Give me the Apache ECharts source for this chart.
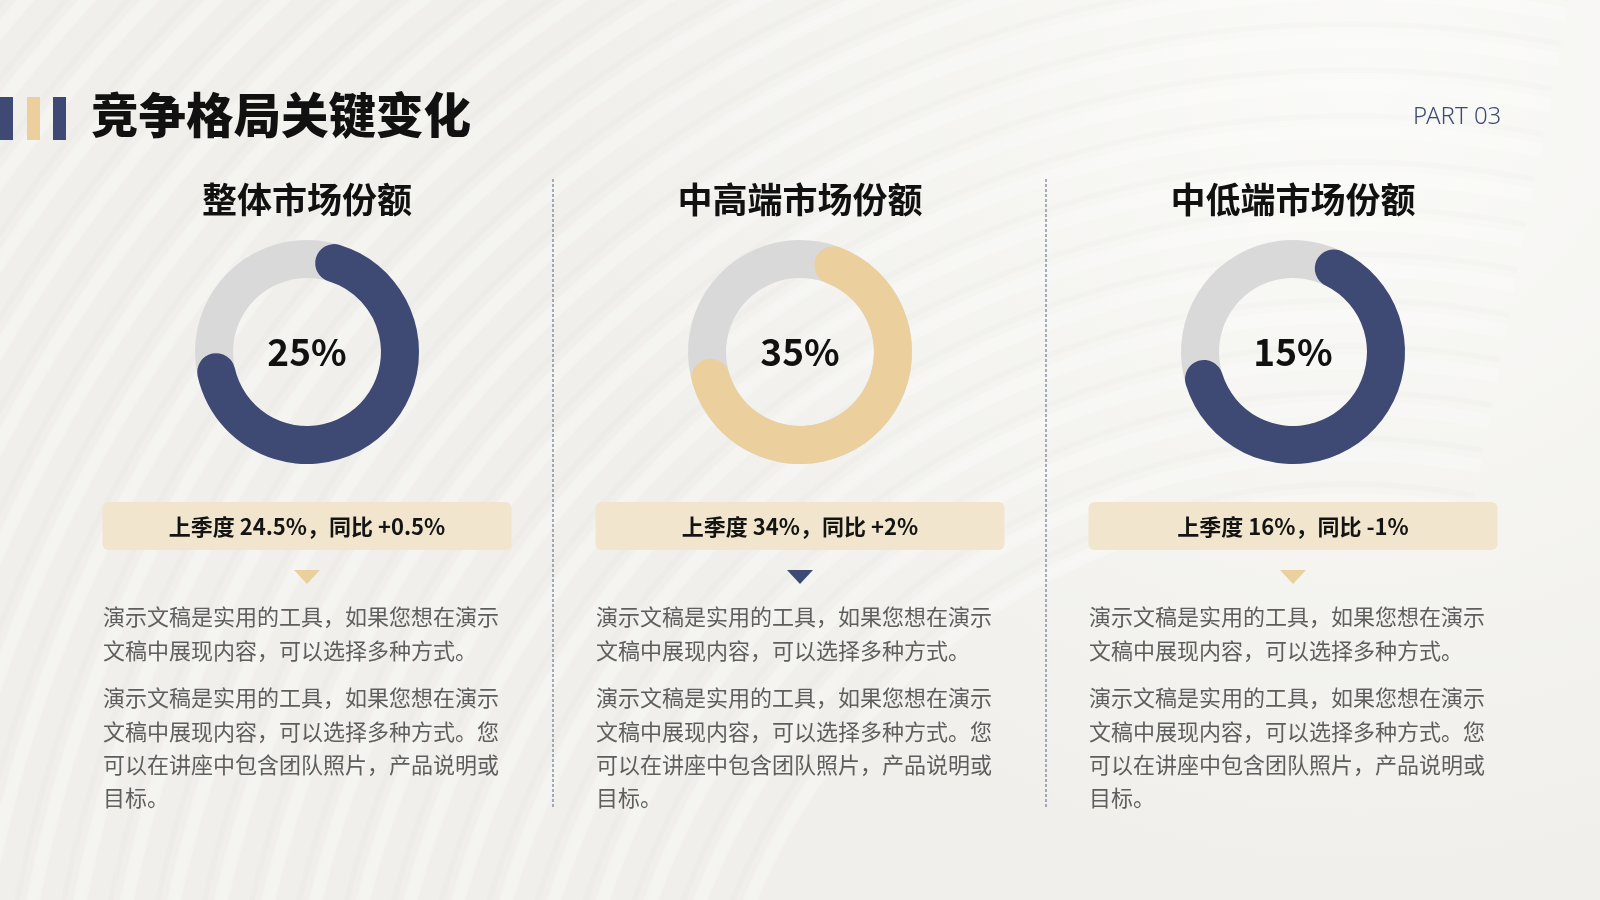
<!DOCTYPE html>
<html><head><meta charset="utf-8">
<script src="https://cdn.jsdelivr.net/npm/echarts@6/dist/echarts.min.js"></script>
<style>html,body{margin:0;padding:0;background:#f2f1ed}#c{width:1600px;height:900px}</style>
</head><body><div id="c"></div>
<script>
// ---- data ----
const pageTitle = '竞争格局关键变化';
const partLabel = 'PART 03';
const categories = ['整体市场份额', '中高端市场份额', '中低端市场份额'];
const shareValues = [25, 35, 15];
const lastQuarter = ['24.5%', '34%', '16%'];
const yoyChange = ['+0.5%', '+2%', '-1%'];
const arcStartDeg = [17, 21, 26];      // clockwise from 12 o'clock
const arcPercent = [66.8, 64.7, 63.1]; // share of the ring the coloured arc covers
const paragraph1 = ['演示文稿是实用的工具，如果您想在演示', '文稿中展现内容，可以选择多种方式。'];
const paragraph2 = ['演示文稿是实用的工具，如果您想在演示', '文稿中展现内容，可以选择多种方式。您', '可以在讲座中包含团队照片，产品说明或', '目标。'];

// ---- style ----
const NAVY = '#3e4a73', TAN = '#ebcf9d', BOX = '#f1e5cd', GREY = '#d9d9d9';
const ringColors = [NAVY, TAN, NAVY];
const triColors = [TAN, NAVY, TAN];
const FONT = "'Noto Sans CJK SC','Noto Sans',sans-serif";
const colX = [307, 800, 1293];
const ringY = 352;

const chart = echarts.init(document.getElementById('c'), null, {renderer: 'canvas'});

const graphics = [];
// soft background light
graphics.push({type: 'rect', silent: true, z: -20, shape: {x: 0, y: 0, width: 1600, height: 900},
  style: {fill: new echarts.graphic.RadialGradient(0.85, 0.1, 0.9, [
    {offset: 0, color: 'rgba(250,250,248,1)'}, {offset: 1, color: 'rgba(240,239,235,1)'}])}});
// faint background stripes
for (let r = 650; r <= 1800; r += 46) {
  graphics.push({type: 'arc', silent: true, z: -10,
    shape: {cx: 1350, cy: 1150, r: r, startAngle: Math.PI, endAngle: Math.PI * 1.56},
    style: {stroke: 'rgba(255,255,255,0.26)', lineWidth: 14, fill: null, shadowBlur: 8, shadowColor: 'rgba(255,255,255,0.35)'}});
  graphics.push({type: 'arc', silent: true, z: -10,
    shape: {cx: 1350, cy: 1150, r: r + 16, startAngle: Math.PI, endAngle: Math.PI * 1.56},
    style: {stroke: 'rgba(0,0,0,0.01)', lineWidth: 6, fill: null}});
}
// header bars
[[0, NAVY], [27, TAN], [53, NAVY]].forEach(([x, c]) => {
  graphics.push({type: 'rect', shape: {x: x, y: 97, width: 13, height: 43}, style: {fill: c}});
});
graphics.push({type: 'text', left: 91, top: 91, style: {text: pageTitle, font: `900 47.5px ${FONT}`, fill: '#111', letterSpacing: 0.4}});
graphics.push({type: 'text', x: 1413, y: 117, style: {text: partLabel, font: `300 24px 'Noto Sans',sans-serif`, fill: NAVY, verticalAlign: 'middle'}});
// dividers
[553, 1046].forEach(x => {
  graphics.push({type: 'line', shape: {x1: x, y1: 179, x2: x, y2: 809}, style: {stroke: '#55608a', lineWidth: 1, lineDash: [3, 2]}});
});

const series = [];
categories.forEach((name, i) => {
  const cx = colX[i];
  graphics.push({type: 'text', x: cx, y: 200, style: {text: name, font: `700 35px ${FONT}`, fill: '#111', align: 'center', verticalAlign: 'middle'}});
  graphics.push({type: 'rect', shape: {x: cx - 204.5, y: 502, width: 409, height: 48, r: 6}, style: {fill: BOX}});
  graphics.push({type: 'text', x: cx, y: 527, style: {text: `上季度 ${lastQuarter[i]}，同比 ${yoyChange[i]}`, font: `700 22px ${FONT}`, fill: '#141414', align: 'center', verticalAlign: 'middle'}});
  graphics.push({type: 'polygon', shape: {points: [[cx - 13, 570], [cx + 13, 570], [cx, 584]]}, style: {fill: triColors[i]}});
  paragraph1.forEach((line, k) => {
    graphics.push({type: 'text', x: cx - 204, y: 617 + k * 33.3, style: {text: line, font: `400 22px ${FONT}`, fill: '#5e5e5e', verticalAlign: 'middle'}});
  });
  paragraph2.forEach((line, k) => {
    graphics.push({type: 'text', x: cx - 204, y: 698 + k * 33.3, style: {text: line, font: `400 22px ${FONT}`, fill: '#5e5e5e', verticalAlign: 'middle'}});
  });
  const sa = 90 - arcStartDeg[i];
  series.push({
    type: 'gauge', center: [cx, ringY], radius: 112,
    startAngle: sa, endAngle: sa - 360, min: 0, max: 100,
    axisLine: {lineStyle: {width: 38, color: [[1, GREY]]}},
    progress: {show: true, width: 38, roundCap: true, itemStyle: {color: ringColors[i]}},
    pointer: {show: false}, anchor: {show: false},
    axisTick: {show: false}, splitLine: {show: false}, axisLabel: {show: false},
    title: {show: false},
    detail: {offsetCenter: [0, 0], valueAnimation: false, formatter: () => shareValues[i] + '%',
      fontFamily: FONT, fontSize: 37, fontWeight: 700, color: '#111'},
    animation: false,
    data: [{value: arcPercent[i], name: name}]
  });
});

chart.setOption({
  backgroundColor: '#f2f1ed',
  animation: false,
  graphic: graphics,
  series: series
});
</script></body></html>
